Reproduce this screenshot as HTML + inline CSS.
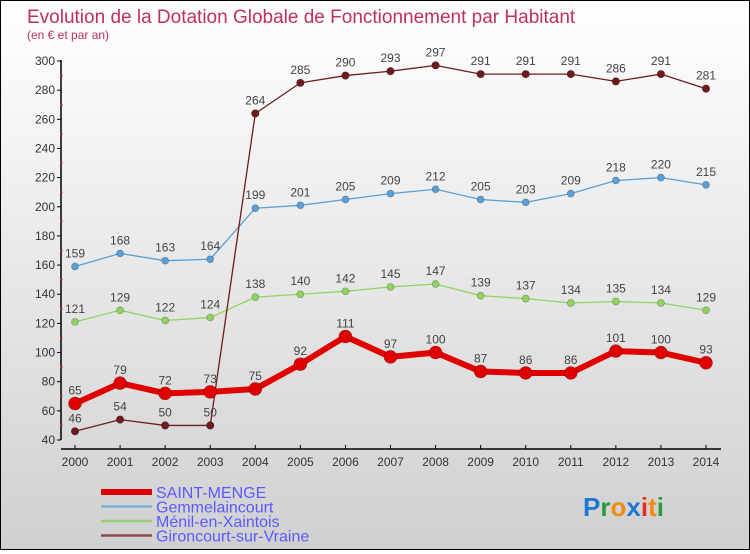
<!DOCTYPE html>
<html><head><meta charset="utf-8"><style>
body{margin:0;width:750px;height:550px;overflow:hidden;font-family:"Liberation Sans",sans-serif}
#wrap{position:relative;width:748px;height:548px;border:1px solid #000;background:linear-gradient(#fff,#d0d0d0)}
</style></head><body>
<div id="wrap">
<svg id="chart" width="748" height="548"></svg>
</div>
<script>
const years=[2000,2001,2002,2003,2004,2005,2006,2007,2008,2009,2010,2011,2012,2013,2014];
const saint=[65,79,72,73,75,92,111,97,100,87,86,86,101,100,93];
const gemm=[159,168,163,164,199,201,205,209,212,205,203,209,218,220,215];
const menil=[121,129,122,124,138,140,142,145,147,139,137,134,135,134,129];
const giron=[46,54,50,50,264,285,290,293,297,291,291,291,286,291,281];
const yTicks=[40,60,80,100,120,140,160,180,200,220,240,260,280,300];
const NS='http://www.w3.org/2000/svg';
const svg=document.getElementById('chart');
const X=i=>74+i*(631/14);
const Y=v=>439-(v-40)*(379/260);
function mk(t,a,p){const e=document.createElementNS(NS,t);for(const k in a)e.setAttribute(k,a[k]);(p||svg).appendChild(e);return e;}
const title=mk('text',{x:26,y:22,fill:'#c0305a','font-size':19});title.textContent='Evolution de la Dotation Globale de Fonctionnement par Habitant';


const sub=mk('text',{x:26,y:38,fill:'#c0305a','font-size':12});sub.textContent='(en € et par an)';


const yAxis=mk('line',{x1:60,y1:59,x2:60,y2:439,stroke:'#000','stroke-width':1.5});


yTicks.forEach(v=>{mk('line',{x1:56,x2:60,y1:Y(v),y2:Y(v),stroke:'#000'});
 const t=mk('text',{x:54,y:Y(v)+4,'text-anchor':'end','font-size':12,fill:'#333'});t.textContent=v;
 
 
 if(v<300)mk('line',{x1:59,x2:62,y1:Y(v+10),y2:Y(v+10),stroke:'#e33'});});
const xAxis=mk('line',{x1:60,y1:448,x2:720,y2:448,stroke:'#000','stroke-width':1.5});


years.forEach((y,i)=>{mk('line',{x1:X(i),x2:X(i),y1:444,y2:448,stroke:'#000'});
 const t=mk('text',{x:X(i),y:465,'text-anchor':'middle','font-size':12,fill:'#333'});t.textContent=y;
 
 });
function series(data,color,w,r,name){
 const g=mk('g',{});
 
 
 mk('polyline',{points:data.map((v,i)=>X(i)+','+Y(v)).join(' '),fill:'none',stroke:color,'stroke-width':w,'stroke-linejoin':'round'},g);
 data.forEach((v,i)=>{const c=mk('circle',{cx:X(i),cy:Y(v),r:r,fill:color,stroke:'rgba(0,0,0,0.3)','stroke-width':0.7},g);
  
  
  const t=mk('text',{x:X(i),y:Y(v)-9,'text-anchor':'middle','font-size':12,fill:'#444'},g);t.textContent=v;
  
  });
}
series(menil,'#8fd460',1.3,3.5,'menil');
series(gemm,'#5aa0d6',1.3,3.5,'gemmelaincourt');
series(giron,'#6e1b20',1.3,3.8,'gironcourt');
series(saint,'#e00000',6,6.5,'saint-menge');
const leg=[['SAINT-MENGE','#e00000',6],['Gemmelaincourt','#7ab0d8',2.5],['Ménil-en-Xaintois','#90d070',2.5],['Gironcourt-sur-Vraine','#8a4a4a',2.5]];
leg.forEach((l,i)=>{const y=491+i*14.5;
 const g=mk('g',{});
 
 
 mk('line',{x1:100,x2:151,y1:y,y2:y,stroke:l[1],'stroke-width':l[2]},g);
 const t=mk('text',{x:155,y:y+6,'font-size':16,fill:'#5a5aff'},g);t.textContent=l[0];});
const logo=mk('text',{x:582,y:515,'font-size':26,'font-weight':'bold'});


[['P','#1e78d0'],['r','#2a9a3a'],['o','#f08a10'],['x','#1e78d0'],['i','#e03020'],['t','#f08a10'],['i','#2a9a3a']].forEach(c=>{const s=mk('tspan',{fill:c[1]},logo);s.textContent=c[0];});
</script>
</body></html>
